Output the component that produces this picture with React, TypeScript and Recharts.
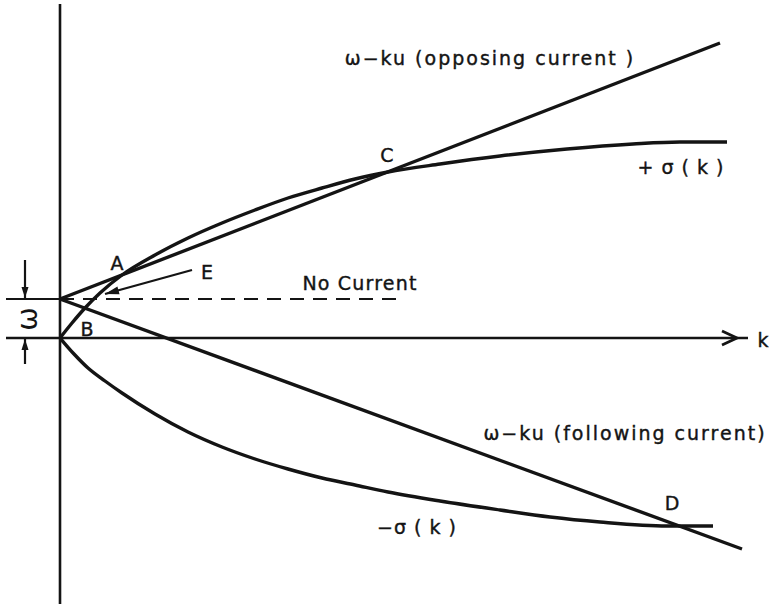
import {
  ComposedChart,
  Line,
  XAxis,
  YAxis,
  ReferenceLine,
  ReferenceDot,
} from "recharts";

const INK = "#141414";
const FONT = "'DejaVu Sans', sans-serif";

// +sigma(k) and -sigma(k) dispersion branches
const plusK = [0, 12, 25, 40, 62, 95, 128, 162, 195, 228, 262, 295, 328, 380, 440, 507, 573, 620, 667];
const plusSigma = [0, 15, 30, 45, 63, 83, 100, 115, 128, 140, 150, 159, 166, 174, 182, 189, 194, 196, 196];
const minusK = [0, 14, 28, 45, 62, 95, 128, 162, 195, 228, 262, 295, 328, 380, 440, 490, 540, 607, 653];
const minusSigma = [0, -16, -30, -43, -55, -76, -94, -109, -121, -131, -140, -147, -154, -163, -172, -179, -184, -188, -188];

// omega - k u, straight lines for both current directions
const omega = 39;
const opposingK = [0, 660];
const opposing = [omega, 295];
const followingK = [0, 682];
const following = [omega, -211];
const noCurrentK = [0, 340];

// text annotations: [label, k, value, letter spacing]
const labels: [string, number, number, number][] = [
  ["ω−ku (opposing current )", 430, 280, 2],
  ["C", 327, 183, 0],
  ["+ σ ( k )", 621, 171, 1],
  ["A", 57, 75, 0],
  ["E", 147, 66, 0],
  ["No Current", 300, 55, 1.2],
  ["B", 27, 9, 0],
  ["ω−ku (following current)", 565, -95, 2],
  ["D", 612, -165, 0],
  ["−σ ( k )", 357, -189, 1],
  ["k", 703, -2, 0],
];

const rows = (ks: number[], vs: number[]) => ks.map((k, i) => ({ k, v: vs[i] }));

function head(x1: number, y1: number, x2: number, y2: number, len: number, half: number) {
  const dx = x2 - x1;
  const dy = y2 - y1;
  const d = Math.hypot(dx, dy) || 1;
  const ux = dx / d;
  const uy = dy / d;
  const bx = x2 - ux * len;
  const by = y2 - uy * len;
  return [
    [bx - uy * half, by + ux * half],
    [x2, y2],
    [bx + uy * half, by - ux * half],
  ];
}

// k axis with an open chevron a little before its end
const AxisArrow = (p: any) => {
  const { x1, y1, x2, y2 } = p;
  const tip = x2 - 11;
  return (
    <g>
      <line x1={x1} y1={y1} x2={x2} y2={y2} stroke={INK} strokeWidth={2.4} />
      <polyline
        points={`${tip - 15},${y1 - 7} ${tip},${y1} ${tip - 15},${y1 + 7}`}
        fill="none"
        stroke={INK}
        strokeWidth={2.8}
      />
    </g>
  );
};

// plain line ending in a filled arrowhead
const pointer = (len: number, half: number) => (p: any) => {
  const { x1, y1, x2, y2 } = p;
  const pts = head(x1, y1, x2, y2, len, half);
  return (
    <g>
      <line x1={x1} y1={y1} x2={x2} y2={y2} stroke={INK} strokeWidth={2.2} />
      <polygon points={pts.map((q) => q.join(",")).join(" ")} fill={INK} />
    </g>
  );
};

const textShape = (label: string, spacing: number) => (p: any) => (
  <text
    x={p.cx}
    y={p.cy}
    textAnchor="middle"
    dominantBaseline="central"
    fontFamily={FONT}
    fontSize={19}
    letterSpacing={spacing}
    fill={INK}
    stroke={INK}
    strokeWidth={0.4}
  >
    {label}
  </text>
);

const omegaShape = (p: any) => (
  <text
    x={p.cx}
    y={p.cy}
    textAnchor="middle"
    dominantBaseline="central"
    fontFamily={FONT}
    fontSize={28}
    fill={INK}
    transform={`rotate(-90 ${p.cx} ${p.cy})`}
  >
    ω
  </text>
);

const curve = {
  stroke: INK,
  strokeWidth: 3.4,
  dot: false,
  isAnimationActive: false,
} as const;

export default function App() {
  return (
    <div style={{ position: "absolute", left: 0, top: 0, background: "#fff" }}>
      <ComposedChart
        width={773}
        height={607}
        margin={{ top: 4, right: 13, bottom: 3, left: 60 }}
      >
        <XAxis dataKey="k" type="number" domain={[0, 700]} hide allowDataOverflow />
        <YAxis type="number" domain={[-266, 334]} hide allowDataOverflow />

        <ReferenceLine x={0} stroke={INK} strokeWidth={2.6} />
        <ReferenceLine
          segment={[{ x: -54, y: 0 }, { x: 688, y: 0 }]}
          ifOverflow="visible"
          shape={AxisArrow}
        />
        <ReferenceLine
          segment={[{ x: -54, y: omega }, { x: 0, y: omega }]}
          ifOverflow="visible"
          stroke={INK}
          strokeWidth={2.2}
        />
        <ReferenceLine
          segment={[{ x: -35, y: 78 }, { x: -35, y: omega + 1 }]}
          ifOverflow="visible"
          shape={pointer(11, 3.5)}
        />
        <ReferenceLine
          segment={[{ x: -35, y: -26 }, { x: -35, y: -1 }]}
          ifOverflow="visible"
          shape={pointer(11, 3.5)}
        />
        <ReferenceLine
          segment={[{ x: 132, y: 68 }, { x: 45, y: 44 }]}
          ifOverflow="visible"
          shape={pointer(14, 4)}
        />

        <Line
          data={rows(noCurrentK, [omega, omega])}
          dataKey="v"
          type="linear"
          stroke={INK}
          strokeWidth={2.2}
          strokeDasharray="14 9"
          dot={false}
          isAnimationActive={false}
        />
        <Line data={rows(opposingK, opposing)} dataKey="v" type="linear" {...curve} />
        <Line data={rows(followingK, following)} dataKey="v" type="linear" {...curve} />
        <Line data={rows(plusK, plusSigma)} dataKey="v" type="monotone" {...curve} />
        <Line data={rows(minusK, minusSigma)} dataKey="v" type="monotone" {...curve} />

        {labels.map(([label, k, v, spacing]) => (
          <ReferenceDot
            key={label}
            x={k}
            y={v}
            r={0}
            ifOverflow="visible"
            shape={textShape(label, spacing)}
          />
        ))}
        <ReferenceDot x={-33} y={19} r={0} ifOverflow="visible" shape={omegaShape} />
      </ComposedChart>
    </div>
  );
}
